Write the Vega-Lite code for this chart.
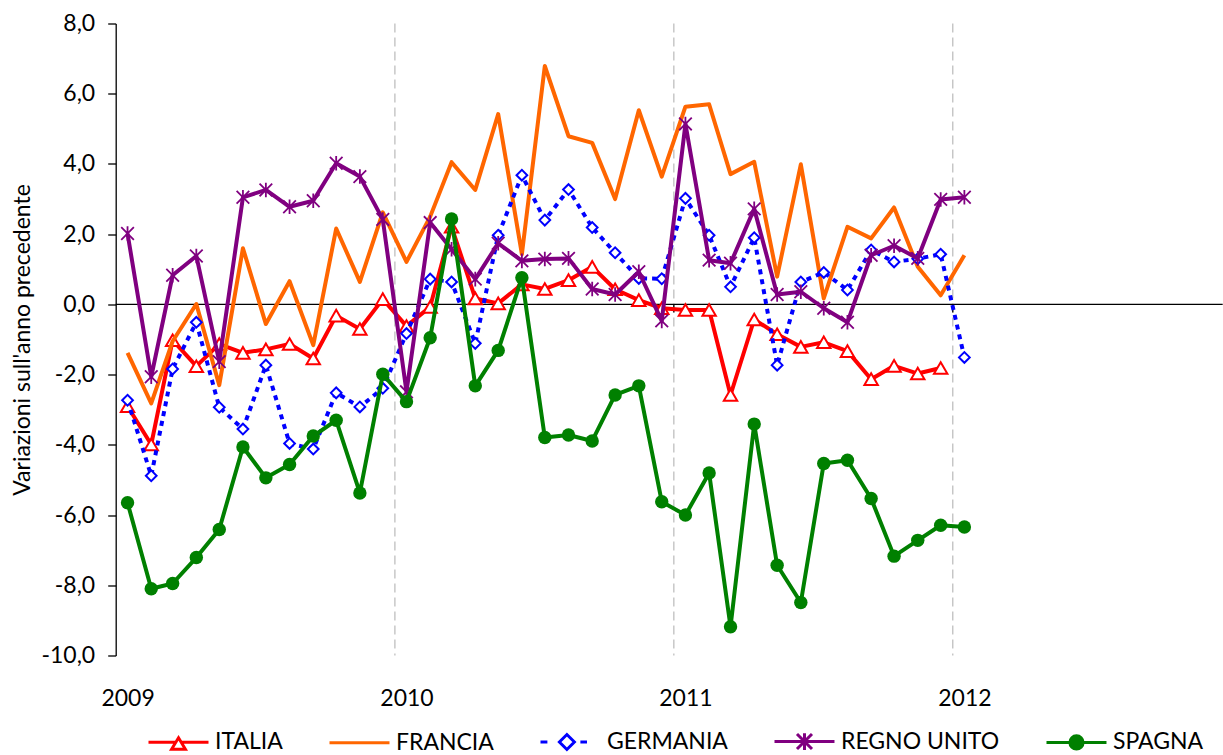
{
"$schema":"https://vega.github.io/schema/vega-lite/v6.json",
"width":1107,"height":632,"autosize":"none",
"padding":{"left":115.7,"top":23.5,"right":0,"bottom":99.5},
"background":"white",
"config":{"view":{"stroke":null},"font":"Lato",
 "locale":{"number":{"decimal":",","thousands":".","grouping":[3],"currency":["","\u00a0€"],"minus":"-"}}},
"datasets":{
"anni":[{"anno":"2010-01"},{"anno":"2011-01"},{"anno":"2012-01"}],
"italia":[
{"paese":"ITALIA","mese":"2009-01","valore":-2.90},{"paese":"ITALIA","mese":"2009-02","valore":-3.99},{"paese":"ITALIA","mese":"2009-03","valore":-1.02},{"paese":"ITALIA","mese":"2009-04","valore":-1.76},{"paese":"ITALIA","mese":"2009-05","valore":-1.13},{"paese":"ITALIA","mese":"2009-06","valore":-1.38},{"paese":"ITALIA","mese":"2009-07","valore":-1.28},{"paese":"ITALIA","mese":"2009-08","valore":-1.13},{"paese":"ITALIA","mese":"2009-09","valore":-1.54},{"paese":"ITALIA","mese":"2009-10","valore":-0.32},{"paese":"ITALIA","mese":"2009-11","valore":-0.70},{"paese":"ITALIA","mese":"2009-12","valore":0.15},
{"paese":"ITALIA","mese":"2010-01","valore":-0.62},{"paese":"ITALIA","mese":"2010-02","valore":-0.07},{"paese":"ITALIA","mese":"2010-03","valore":2.21},{"paese":"ITALIA","mese":"2010-04","valore":0.17},{"paese":"ITALIA","mese":"2010-05","valore":0.03},{"paese":"ITALIA","mese":"2010-06","valore":0.57},{"paese":"ITALIA","mese":"2010-07","valore":0.44},{"paese":"ITALIA","mese":"2010-08","valore":0.69},{"paese":"ITALIA","mese":"2010-09","valore":1.07},{"paese":"ITALIA","mese":"2010-10","valore":0.43},{"paese":"ITALIA","mese":"2010-11","valore":0.12},{"paese":"ITALIA","mese":"2010-12","valore":-0.11},
{"paese":"ITALIA","mese":"2011-01","valore":-0.16},{"paese":"ITALIA","mese":"2011-02","valore":-0.16},{"paese":"ITALIA","mese":"2011-03","valore":-2.58},{"paese":"ITALIA","mese":"2011-04","valore":-0.43},{"paese":"ITALIA","mese":"2011-05","valore":-0.85},{"paese":"ITALIA","mese":"2011-06","valore":-1.21},{"paese":"ITALIA","mese":"2011-07","valore":-1.08},{"paese":"ITALIA","mese":"2011-08","valore":-1.33},{"paese":"ITALIA","mese":"2011-09","valore":-2.13},{"paese":"ITALIA","mese":"2011-10","valore":-1.75},{"paese":"ITALIA","mese":"2011-11","valore":-1.97},{"paese":"ITALIA","mese":"2011-12","valore":-1.81}],
"francia":[
{"paese":"FRANCIA","mese":"2009-01","valore":-1.38},{"paese":"FRANCIA","mese":"2009-02","valore":-2.82},{"paese":"FRANCIA","mese":"2009-03","valore":-1.05},{"paese":"FRANCIA","mese":"2009-04","valore":0.01},{"paese":"FRANCIA","mese":"2009-05","valore":-2.30},{"paese":"FRANCIA","mese":"2009-06","valore":1.60},{"paese":"FRANCIA","mese":"2009-07","valore":-0.56},{"paese":"FRANCIA","mese":"2009-08","valore":0.66},{"paese":"FRANCIA","mese":"2009-09","valore":-1.16},{"paese":"FRANCIA","mese":"2009-10","valore":2.16},{"paese":"FRANCIA","mese":"2009-11","valore":0.64},{"paese":"FRANCIA","mese":"2009-12","valore":2.62},
{"paese":"FRANCIA","mese":"2010-01","valore":1.21},{"paese":"FRANCIA","mese":"2010-02","valore":2.50},{"paese":"FRANCIA","mese":"2010-03","valore":4.05},{"paese":"FRANCIA","mese":"2010-04","valore":3.26},{"paese":"FRANCIA","mese":"2010-05","valore":5.42},{"paese":"FRANCIA","mese":"2010-06","valore":1.43},{"paese":"FRANCIA","mese":"2010-07","valore":6.79},{"paese":"FRANCIA","mese":"2010-08","valore":4.79},{"paese":"FRANCIA","mese":"2010-09","valore":4.60},{"paese":"FRANCIA","mese":"2010-10","valore":3.00},{"paese":"FRANCIA","mese":"2010-11","valore":5.53},{"paese":"FRANCIA","mese":"2010-12","valore":3.64},
{"paese":"FRANCIA","mese":"2011-01","valore":5.63},{"paese":"FRANCIA","mese":"2011-02","valore":5.70},{"paese":"FRANCIA","mese":"2011-03","valore":3.71},{"paese":"FRANCIA","mese":"2011-04","valore":4.06},{"paese":"FRANCIA","mese":"2011-05","valore":0.79},{"paese":"FRANCIA","mese":"2011-06","valore":3.99},{"paese":"FRANCIA","mese":"2011-07","valore":0.17},{"paese":"FRANCIA","mese":"2011-08","valore":2.21},{"paese":"FRANCIA","mese":"2011-09","valore":1.88},{"paese":"FRANCIA","mese":"2011-10","valore":2.76},{"paese":"FRANCIA","mese":"2011-11","valore":1.07},{"paese":"FRANCIA","mese":"2011-12","valore":0.26},{"paese":"FRANCIA","mese":"2012-01","valore":1.40}],
"germania":[
{"paese":"GERMANIA","mese":"2009-01","valore":-2.73},{"paese":"GERMANIA","mese":"2009-02","valore":-4.88},{"paese":"GERMANIA","mese":"2009-03","valore":-1.84},{"paese":"GERMANIA","mese":"2009-04","valore":-0.51},{"paese":"GERMANIA","mese":"2009-05","valore":-2.93},{"paese":"GERMANIA","mese":"2009-06","valore":-3.55},{"paese":"GERMANIA","mese":"2009-07","valore":-1.73},{"paese":"GERMANIA","mese":"2009-08","valore":-3.96},{"paese":"GERMANIA","mese":"2009-09","valore":-4.12},{"paese":"GERMANIA","mese":"2009-10","valore":-2.52},{"paese":"GERMANIA","mese":"2009-11","valore":-2.92},{"paese":"GERMANIA","mese":"2009-12","valore":-2.39},
{"paese":"GERMANIA","mese":"2010-01","valore":-0.83},{"paese":"GERMANIA","mese":"2010-02","valore":0.72},{"paese":"GERMANIA","mese":"2010-03","valore":0.64},{"paese":"GERMANIA","mese":"2010-04","valore":-1.11},{"paese":"GERMANIA","mese":"2010-05","valore":1.97},{"paese":"GERMANIA","mese":"2010-06","valore":3.68},{"paese":"GERMANIA","mese":"2010-07","valore":2.40},{"paese":"GERMANIA","mese":"2010-08","valore":3.27},{"paese":"GERMANIA","mese":"2010-09","valore":2.19},{"paese":"GERMANIA","mese":"2010-10","valore":1.47},{"paese":"GERMANIA","mese":"2010-11","valore":0.74},{"paese":"GERMANIA","mese":"2010-12","valore":0.73},
{"paese":"GERMANIA","mese":"2011-01","valore":3.02},{"paese":"GERMANIA","mese":"2011-02","valore":1.97},{"paese":"GERMANIA","mese":"2011-03","valore":0.50},{"paese":"GERMANIA","mese":"2011-04","valore":1.90},{"paese":"GERMANIA","mese":"2011-05","valore":-1.73},{"paese":"GERMANIA","mese":"2011-06","valore":0.64},{"paese":"GERMANIA","mese":"2011-07","valore":0.91},{"paese":"GERMANIA","mese":"2011-08","valore":0.41},{"paese":"GERMANIA","mese":"2011-09","valore":1.55},{"paese":"GERMANIA","mese":"2011-10","valore":1.21},{"paese":"GERMANIA","mese":"2011-11","valore":1.30},{"paese":"GERMANIA","mese":"2011-12","valore":1.43},{"paese":"GERMANIA","mese":"2012-01","valore":-1.51}],
"regnounito":[
{"paese":"REGNO UNITO","mese":"2009-01","valore":2.02},{"paese":"REGNO UNITO","mese":"2009-02","valore":-2.06},{"paese":"REGNO UNITO","mese":"2009-03","valore":0.83},{"paese":"REGNO UNITO","mese":"2009-04","valore":1.38},{"paese":"REGNO UNITO","mese":"2009-05","valore":-1.63},{"paese":"REGNO UNITO","mese":"2009-06","valore":3.05},{"paese":"REGNO UNITO","mese":"2009-07","valore":3.26},{"paese":"REGNO UNITO","mese":"2009-08","valore":2.78},{"paese":"REGNO UNITO","mese":"2009-09","valore":2.95},{"paese":"REGNO UNITO","mese":"2009-10","valore":4.02},{"paese":"REGNO UNITO","mese":"2009-11","valore":3.64},{"paese":"REGNO UNITO","mese":"2009-12","valore":2.42},
{"paese":"REGNO UNITO","mese":"2010-01","valore":-2.49},{"paese":"REGNO UNITO","mese":"2010-02","valore":2.33},{"paese":"REGNO UNITO","mese":"2010-03","valore":1.57},{"paese":"REGNO UNITO","mese":"2010-04","valore":0.72},{"paese":"REGNO UNITO","mese":"2010-05","valore":1.74},{"paese":"REGNO UNITO","mese":"2010-06","valore":1.24},{"paese":"REGNO UNITO","mese":"2010-07","valore":1.29},{"paese":"REGNO UNITO","mese":"2010-08","valore":1.31},{"paese":"REGNO UNITO","mese":"2010-09","valore":0.44},{"paese":"REGNO UNITO","mese":"2010-10","valore":0.28},{"paese":"REGNO UNITO","mese":"2010-11","valore":0.93},{"paese":"REGNO UNITO","mese":"2010-12","valore":-0.47},
{"paese":"REGNO UNITO","mese":"2011-01","valore":5.14},{"paese":"REGNO UNITO","mese":"2011-02","valore":1.26},{"paese":"REGNO UNITO","mese":"2011-03","valore":1.17},{"paese":"REGNO UNITO","mese":"2011-04","valore":2.72},{"paese":"REGNO UNITO","mese":"2011-05","valore":0.28},{"paese":"REGNO UNITO","mese":"2011-06","valore":0.36},{"paese":"REGNO UNITO","mese":"2011-07","valore":-0.11},{"paese":"REGNO UNITO","mese":"2011-08","valore":-0.51},{"paese":"REGNO UNITO","mese":"2011-09","valore":1.40},{"paese":"REGNO UNITO","mese":"2011-10","valore":1.67},{"paese":"REGNO UNITO","mese":"2011-11","valore":1.31},{"paese":"REGNO UNITO","mese":"2011-12","valore":2.99},{"paese":"REGNO UNITO","mese":"2012-01","valore":3.05}],
"spagna":[
{"paese":"SPAGNA","mese":"2009-01","valore":-5.65},{"paese":"SPAGNA","mese":"2009-02","valore":-8.10},{"paese":"SPAGNA","mese":"2009-03","valore":-7.95},{"paese":"SPAGNA","mese":"2009-04","valore":-7.21},{"paese":"SPAGNA","mese":"2009-05","valore":-6.41},{"paese":"SPAGNA","mese":"2009-06","valore":-4.06},{"paese":"SPAGNA","mese":"2009-07","valore":-4.94},{"paese":"SPAGNA","mese":"2009-08","valore":-4.56},{"paese":"SPAGNA","mese":"2009-09","valore":-3.75},{"paese":"SPAGNA","mese":"2009-10","valore":-3.30},{"paese":"SPAGNA","mese":"2009-11","valore":-5.37},{"paese":"SPAGNA","mese":"2009-12","valore":-1.99},
{"paese":"SPAGNA","mese":"2010-01","valore":-2.77},{"paese":"SPAGNA","mese":"2010-02","valore":-0.95},{"paese":"SPAGNA","mese":"2010-03","valore":2.43},{"paese":"SPAGNA","mese":"2010-04","valore":-2.32},{"paese":"SPAGNA","mese":"2010-05","valore":-1.31},{"paese":"SPAGNA","mese":"2010-06","valore":0.76},{"paese":"SPAGNA","mese":"2010-07","valore":-3.79},{"paese":"SPAGNA","mese":"2010-08","valore":-3.72},{"paese":"SPAGNA","mese":"2010-09","valore":-3.89},{"paese":"SPAGNA","mese":"2010-10","valore":-2.58},{"paese":"SPAGNA","mese":"2010-11","valore":-2.32},{"paese":"SPAGNA","mese":"2010-12","valore":-5.62},
{"paese":"SPAGNA","mese":"2011-01","valore":-6.00},{"paese":"SPAGNA","mese":"2011-02","valore":-4.80},{"paese":"SPAGNA","mese":"2011-03","valore":-9.18},{"paese":"SPAGNA","mese":"2011-04","valore":-3.41},{"paese":"SPAGNA","mese":"2011-05","valore":-7.43},{"paese":"SPAGNA","mese":"2011-06","valore":-8.49},{"paese":"SPAGNA","mese":"2011-07","valore":-4.53},{"paese":"SPAGNA","mese":"2011-08","valore":-4.44},{"paese":"SPAGNA","mese":"2011-09","valore":-5.53},{"paese":"SPAGNA","mese":"2011-10","valore":-7.17},{"paese":"SPAGNA","mese":"2011-11","valore":-6.72},{"paese":"SPAGNA","mese":"2011-12","valore":-6.29},{"paese":"SPAGNA","mese":"2012-01","valore":-6.34}]
},
"layer":[
{"data":{"name":"anni"},
 "mark":{"type":"rule","stroke":"#BFBFBF","strokeWidth":1.3,"strokeDash":[9,5],"xOffset":-11.6},
 "encoding":{"x":{"field":"anno","type":"temporal"}}},
{"data":{"values":[{}]},
 "mark":{"type":"rule","stroke":"black","strokeWidth":1.3},
 "encoding":{"y":{"datum":0,"type":"quantitative"}}},
{"data":{"name":"anni"},
 "mark":{"type":"rule","stroke":"black","strokeWidth":1.3,"xOffset":-11.6},
 "encoding":{"x":{"field":"anno","type":"temporal"},"y":{"datum":0,"type":"quantitative"},"y2":{"datum":-0.23}}},
{"data":{"name":"italia"},
 "mark":{"type":"line","strokeWidth":4,"strokeJoin":"round"},
 "encoding":{
  "x":{"field":"mese","type":"temporal",
   "scale":{"type":"utc","domain":[{"year":2008,"month":12,"date":16,"hours":12,"utc":true},{"year":2012,"month":12,"date":4,"utc":true}]},
   "axis":{"values":[{"year":2009,"month":1,"date":1,"utc":true},{"year":2010,"month":1,"date":1,"utc":true},{"year":2011,"month":1,"date":1,"utc":true},{"year":2012,"month":1,"date":1,"utc":true}],
    "format":"%Y","labelFlush":false,"labelOverlap":false,"domain":false,"ticks":false,"grid":false,
    "labelPadding":32,"labelFontSize":23,"labelFont":"Lato","labelColor":"black","title":null}},
  "y":{"field":"valore","type":"quantitative","scale":{"domain":[-10,8],"nice":false,"zero":false},
   "axis":{"values":[-10,-8,-6,-4,-2,0,2,4,6,8],"format":".1f",
    "grid":false,"domainColor":"black","domainWidth":1.3,"tickColor":"black","tickWidth":1.3,"tickSize":8,"labelPadding":13,
    "labelFontSize":23,"labelFont":"Lato","labelColor":"black",
    "title":"Variazioni sull'anno precedente","titleFontSize":23,"titleFont":"Lato","titleFontWeight":"normal","titleColor":"black","titleX":-93,"titleBaseline":"middle"}},
  "color":{"field":"paese","type":"nominal",
   "scale":{"domain":["ITALIA","FRANCIA","GERMANIA","REGNO UNITO","SPAGNA"],"range":["#FF0000","#FF6600","#0000FF","#800080","#008000"]},
   "legend":{"title":null,"orient":"none","legendX":31.3,"legendY":686.5,"direction":"horizontal","padding":0,
    "symbolSize":3600,"symbolStrokeWidth":3,"labelFont":"Lato","labelFontSize":23,"labelColor":"black","labelOffset":5,"columnPadding":40,
    "encode":{"symbols":{"update":{
     "shape":{"signal":"datum.value==='ITALIA' ? 'M-1,0H-0.09M0.09,0H1M0,-0.15L0.23,0.23L-0.23,0.23Z' : datum.value==='FRANCIA' ? 'M-1,0H1' : datum.value==='GERMANIA' ? 'M-1,0H-0.77M0.33,0H0.55M-0.37,0L-0.12,-0.25L0.13,0L-0.12,0.25Z' : datum.value==='REGNO UNITO' ? 'M-1,0H1M-0.25,-0.25L0.25,0.25M0.25,-0.25L-0.25,0.25M0,-0.28V0.28' : 'M-1,0H1M0.22,0A0.22,0.22 0 1 1 -0.22,0A0.22,0.22 0 1 1 0.22,0Z'"},
     "fill":{"signal":"datum.value==='SPAGNA' ? '#008000' : (datum.value==='ITALIA' || datum.value==='GERMANIA') ? '#FFFFFF' : 'transparent'"},
     "stroke":{"signal":"datum.value==='ITALIA' ? '#FF0000' : datum.value==='FRANCIA' ? '#FF6600' : datum.value==='GERMANIA' ? '#0000FF' : datum.value==='REGNO UNITO' ? '#800080' : '#008000'"},
     "strokeWidth":{"value":3},"opacity":{"value":1}}}}}}
 }},
{"data":{"name":"italia"},
 "mark":{"type":"point","shape":"triangle-up","size":180,"filled":true,"fill":"#FFFFFF","stroke":"#FF0000","strokeWidth":2,"opacity":1},
 "encoding":{"x":{"field":"mese","type":"temporal"},"y":{"field":"valore","type":"quantitative"}}},
{"data":{"name":"francia"},
 "mark":{"type":"line","strokeWidth":4,"strokeJoin":"round"},
 "encoding":{"x":{"field":"mese","type":"temporal"},"y":{"field":"valore","type":"quantitative"},"color":{"field":"paese","type":"nominal","legend":null}}},
{"data":{"name":"germania"},
 "mark":{"type":"line","strokeWidth":4,"strokeJoin":"round","strokeDash":[5,5]},
 "encoding":{"x":{"field":"mese","type":"temporal"},"y":{"field":"valore","type":"quantitative"},"color":{"field":"paese","type":"nominal","legend":null}}},
{"data":{"name":"germania"},
 "mark":{"type":"point","shape":"diamond","size":115,"filled":true,"fill":"#FFFFFF","stroke":"#0000FF","strokeWidth":2,"opacity":1},
 "encoding":{"x":{"field":"mese","type":"temporal"},"y":{"field":"valore","type":"quantitative"}}},
{"data":{"name":"regnounito"},
 "mark":{"type":"line","strokeWidth":4,"strokeJoin":"round"},
 "encoding":{"x":{"field":"mese","type":"temporal"},"y":{"field":"valore","type":"quantitative"},"color":{"field":"paese","type":"nominal","legend":null}}},
{"data":{"name":"regnounito"},
 "mark":{"type":"point","shape":"M-1,-1L1,1M1,-1L-1,1M0,-1.15V1.15","size":160,"filled":false,"stroke":"#800080","strokeWidth":1.8,"opacity":1},
 "encoding":{"x":{"field":"mese","type":"temporal"},"y":{"field":"valore","type":"quantitative"}}},
{"data":{"name":"spagna"},
 "mark":{"type":"line","strokeWidth":4,"strokeJoin":"round"},
 "encoding":{"x":{"field":"mese","type":"temporal"},"y":{"field":"valore","type":"quantitative"},"color":{"field":"paese","type":"nominal","legend":null}}},
{"data":{"name":"spagna"},
 "mark":{"type":"point","shape":"circle","size":180,"filled":true,"fill":"#008000","strokeWidth":0,"opacity":1},
 "encoding":{"x":{"field":"mese","type":"temporal"},"y":{"field":"valore","type":"quantitative"}}}
]
}
